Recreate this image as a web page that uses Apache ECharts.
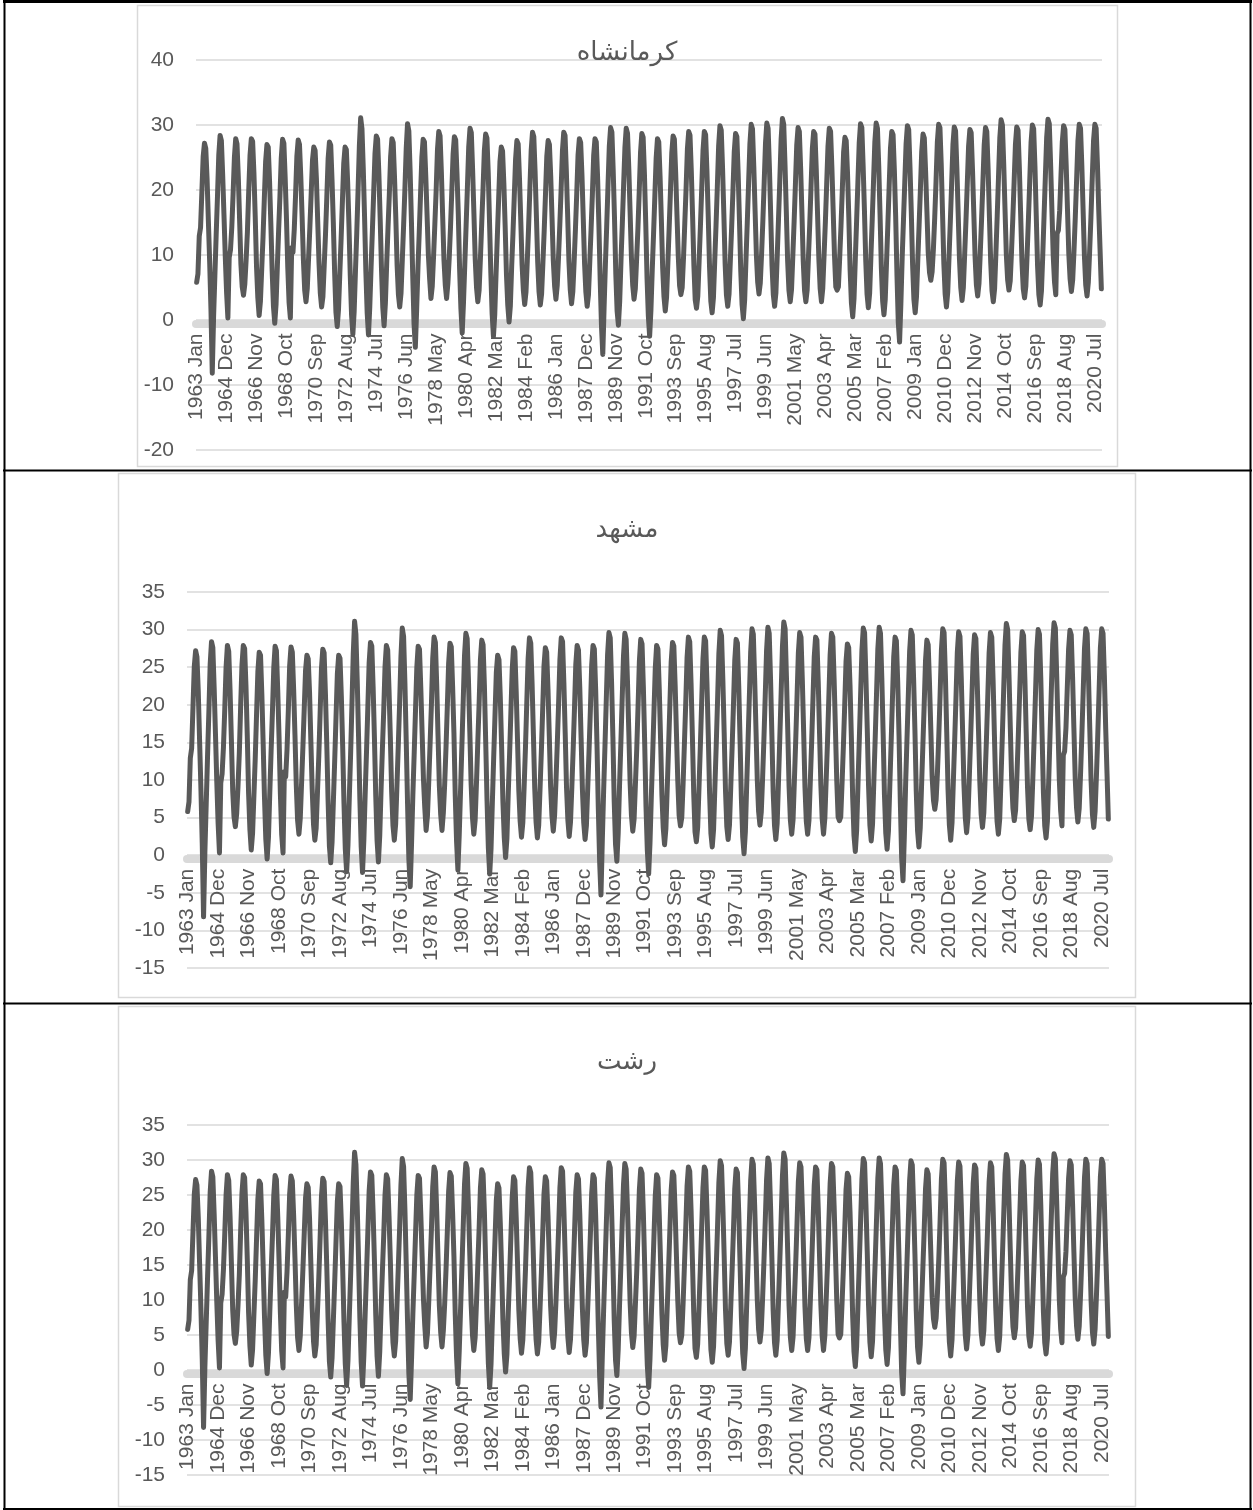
<!DOCTYPE html>
<html>
<head>
<meta charset="utf-8">
<script src="https://cdn.jsdelivr.net/npm/echarts@6/dist/echarts.min.js"></script>
<style>
  html, body { margin: 0; padding: 0; background: #ffffff; }
  #chart { width: 1253px; height: 1510px; }
</style>
</head>
<body>
<div id="chart"></div>
<script>
// Monthly mean temperature (°C), Jan..Dec for each year.
const temps1963to1969 = [
  5.8, 7.1, 12.9, 14.2, 19.6, 25.1, 27.2, 26.4, 21.8, 15.3, 8.9, 1.6,
  -8.2, 0.4, 6.8, 13.1, 19.0, 25.4, 28.4, 27.6, 22.3, 16.1, 9.7, 4.2,
  0.3, 9.6, 10.8, 14.3, 19.4, 25.0, 27.9, 27.1, 22.0, 15.4, 8.6, 5.1,
  3.8, 5.5, 9.2, 13.6, 19.8, 25.3, 27.9, 27.5, 22.6, 15.9, 8.2, 3.4,
  0.7, 2.9, 7.9, 12.8, 18.7, 24.4, 27.0, 26.6, 21.4, 14.8, 7.6, 2.1,
  -0.5, 2.4, 8.3, 13.9, 19.1, 24.9, 27.8, 27.2, 21.9, 15.6, 8.1, 2.7,
  0.3, 11.1, 10.4, 14.0, 19.3, 25.2, 27.7, 27.0, 22.1, 16.0, 9.3, 4.6
];
const temps1970s = [
  2.8, 4.9, 9.6, 14.4, 19.5, 24.6, 26.6, 26.1, 21.7, 15.2, 8.8, 4.1,
  2.0, 3.6, 8.4, 13.2, 18.9, 24.8, 27.4, 26.9, 21.5, 14.9, 7.3, 1.2,
  -1.0, 1.7, 7.2, 12.6, 18.4, 24.1, 26.6, 26.2, 21.2, 14.6, 6.9, 0.8,
  -2.2, 1.3, 7.5, 13.4, 19.9, 26.8, 31.1, 29.4, 23.3, 15.8, 7.4, 1.1,
  -2.3, 2.0, 8.1, 13.7, 19.6, 25.6, 28.3, 27.8, 22.4, 15.5, 7.8, 1.9,
  -0.9, 2.6, 8.7, 14.1, 19.2, 25.1, 27.9, 27.3, 22.0, 15.7, 8.4, 3.9,
  2.0, 4.1, 9.3, 14.6, 20.2, 26.4, 30.2, 29.1, 22.9, 15.1, 6.8, -0.6,
  -4.2, 1.5, 8.0, 13.5, 19.3, 25.0, 27.8, 27.4, 22.2, 16.2, 10.1, 6.3,
  3.3, 5.2, 9.8, 14.8, 20.0, 26.2, 29.0, 28.3, 22.7, 15.9, 9.2, 5.4,
  3.3, 5.6, 9.4, 14.2, 19.7, 25.5, 28.2, 27.7, 22.5, 16.3, 7.9, 1.8
];
const temps1980s = [
  -2.0, 2.7, 8.6, 14.5, 20.4, 26.6, 29.5, 28.8, 23.1, 16.4, 9.4, 5.0,
  2.8, 4.6, 9.5, 14.9, 20.1, 26.0, 28.6, 28.0, 22.6, 15.0, 7.2, 0.9,
  -2.5, 0.8, 7.0, 12.9, 18.6, 24.3, 26.6, 26.0, 21.0, 14.4, 7.0, 2.3,
  -0.3, 2.2, 8.2, 13.3, 19.0, 24.7, 27.6, 27.1, 21.8, 15.3, 8.5, 4.5,
  2.4, 4.3, 9.1, 14.3, 20.3, 26.1, 28.9, 28.2, 22.8, 16.0, 8.9, 4.4,
  2.3, 4.0, 8.8, 13.8, 19.4, 25.2, 27.6, 27.0, 22.1, 15.8, 9.1, 5.2,
  3.2, 5.3, 9.7, 14.7, 20.1, 26.0, 28.9, 28.4, 22.9, 16.2, 9.0, 4.7,
  2.5, 4.4, 9.0, 14.0, 19.5, 25.4, 27.9, 27.3, 22.3, 15.6, 8.7, 4.3,
  2.1, 3.9, 8.9, 13.9, 19.3, 25.3, 27.9, 27.4, 22.0, 14.7, 6.2, -0.9,
  -5.3, 1.9, 8.5, 14.4, 20.6, 26.7, 29.6, 28.9, 23.0, 15.7, 7.1, 1.4
];
const temps1990s = [
  -0.8, 2.9, 9.2, 14.8, 20.7, 26.5, 29.5, 28.7, 23.2, 16.5, 9.6, 5.3,
  3.2, 4.8, 9.4, 14.1, 19.8, 25.8, 28.7, 28.1, 22.4, 14.9, 6.4, 0.6,
  -2.5, 1.6, 7.7, 13.2, 19.1, 24.9, 27.9, 27.4, 22.1, 15.4, 8.0, 3.6,
  1.4, 3.5, 8.8, 14.2, 19.9, 25.7, 28.3, 27.8, 22.6, 16.1, 9.8, 5.3,
  3.9, 5.0, 9.5, 14.9, 20.3, 26.3, 29.0, 28.4, 22.9, 15.9, 8.3, 3.1,
  1.8, 3.7, 9.0, 14.4, 20.2, 26.1, 29.0, 28.5, 23.0, 16.0, 8.2, 2.9,
  1.1, 3.4, 9.1, 14.6, 20.5, 26.8, 29.9, 29.2, 23.4, 16.3, 8.6, 3.8,
  2.1, 4.0, 9.2, 14.3, 19.9, 25.9, 28.7, 28.2, 22.5, 15.2, 7.5, 2.4,
  0.2, 3.1, 9.3, 15.0, 21.0, 27.0, 30.1, 29.4, 23.6, 16.8, 10.0, 5.8,
  4.0, 5.7, 10.2, 15.4, 21.2, 27.2, 30.3, 29.5, 23.5, 16.1, 8.4, 3.9
];
const temps2000s = [
  2.1, 4.2, 9.8, 15.6, 21.5, 27.8, 31.0, 30.1, 23.8, 16.6, 9.1, 4.6,
  2.8, 4.7, 9.9, 15.2, 21.0, 26.9, 29.6, 29.0, 23.3, 16.4, 9.0, 4.5,
  2.8, 4.6, 9.7, 14.8, 20.6, 26.4, 29.0, 28.6, 23.1, 16.2, 9.3, 4.8,
  2.8, 4.9, 10.0, 15.1, 20.9, 26.7, 29.5, 29.0, 23.4, 16.7, 9.9, 5.1,
  4.6, 5.1, 9.6, 14.5, 20.0, 25.8, 28.1, 27.6, 22.6, 15.8, 7.7, 2.6,
  0.5, 3.3, 9.4, 15.3, 21.3, 27.3, 30.2, 29.6, 23.7, 16.9, 9.2, 4.0,
  1.9, 4.1, 9.9, 15.5, 21.4, 27.4, 30.3, 29.5, 23.6, 16.2, 8.0, 2.9,
  0.8, 3.2, 9.0, 14.7, 20.6, 26.4, 29.0, 28.5, 23.0, 15.9, 6.9, -0.4,
  -3.4, 2.5, 9.6, 15.4, 21.2, 27.1, 29.9, 29.3, 23.5, 16.6, 8.5, 3.2,
  1.1, 3.6, 9.2, 14.6, 20.1, 25.9, 28.6, 28.0, 22.8, 16.7, 10.4, 7.3
];
const temps2010s = [
  6.1, 7.4, 11.0, 15.8, 21.3, 27.3, 30.1, 29.6, 23.9, 16.4, 8.7, 4.0,
  2.0, 4.3, 9.8, 15.2, 21.0, 27.0, 29.7, 29.1, 23.4, 16.5, 9.4, 5.0,
  3.0, 5.0, 10.1, 15.3, 20.9, 26.7, 29.3, 28.8, 23.2, 16.6, 9.7, 5.4,
  3.7, 5.6, 10.4, 15.5, 21.1, 26.9, 29.6, 29.0, 23.3, 16.0, 8.9, 4.5,
  2.8, 4.8, 10.3, 16.0, 22.0, 28.0, 30.8, 30.0, 24.0, 17.0, 10.1, 6.2,
  4.6, 6.0, 10.6, 15.7, 21.3, 27.0, 29.7, 29.2, 23.5, 16.3, 9.0, 4.8,
  3.4, 5.2, 10.2, 15.6, 21.4, 27.3, 30.0, 29.4, 23.6, 16.0, 8.3, 3.9,
  2.3, 4.5, 10.0, 16.1, 22.1, 28.1, 30.9, 30.2, 24.1, 17.1, 10.0, 5.9,
  3.9, 13.3, 13.8, 16.9, 22.2, 27.4, 29.9, 29.3, 23.7, 16.9, 10.2, 6.3,
  4.4, 6.2, 10.7, 15.9, 21.6, 27.5, 30.1, 29.5, 23.8, 16.8, 9.8, 5.4
];
const temps2020 = [
  3.7, 5.8, 10.5, 15.8, 21.7, 27.6, 30.1, 29.5, 23.9, 16.9, 10.9, 4.8
];

// Category labels: "YYYY Mon" for every month from 1963 to 2020.
const monthNames = ['Jan', 'Feb', 'Mar', 'Apr', 'May', 'Jun', 'Jul', 'Aug', 'Sep', 'Oct', 'Nov', 'Dec'];
const firstYear = 1963;
const lastYear = 2020;

// Station titles and value-axis ticks for the three panels.
const stationNames = ['کرمانشاه', 'مشهد', 'رشت'];
const yTicksKermanshah = [-20, -10, 0, 10, 20, 30, 40];
const yTicksMashhad = [-15, -10, -5, 0, 5, 10, 15, 20, 25, 30, 35];
const yTicksRasht = [-15, -10, -5, 0, 5, 10, 15, 20, 25, 30, 35];

const monthlyTemp = [].concat(temps1963to1969, temps1970s, temps1980s, temps1990s,
  temps2000s, temps2010s, temps2020);

const categories = [];
for (let y = firstYear; y <= lastYear; y++) {
  for (const m of monthNames) categories.push(y + ' ' + m);
}

const TEXT = '#595959';
const GRID_LINE = '#d9d9d9';
const LABEL_FONT = 'Liberation Sans, Arial, sans-serif';

// Panel geometry (plot rectangle, frame, title position).
const panels = [
  { ticks: yTicksKermanshah, plot: { left: 196, top: 60, width: 906, height: 390 },
    frame: [137, 5, 980, 461], titleY: 53 },
  { ticks: yTicksMashhad, plot: { left: 187, top: 592, width: 922, height: 376 },
    frame: [118, 473, 1017, 524], titleY: 530 },
  { ticks: yTicksRasht, plot: { left: 187, top: 1125, width: 922, height: 350 },
    frame: [118, 1006, 1017, 500], titleY: 1062 }
];

const grids = [], xAxes = [], yAxes = [], series = [], graphics = [];

panels.forEach((p, i) => {
  const ticks = p.ticks;
  const yMin = ticks[0], yMax = ticks[ticks.length - 1];
  // the category axis sits on the zero line; its thick rule hangs just below zero
  const zeroFromBottom = p.plot.height * (0 - yMin) / (yMax - yMin);
  grids.push(Object.assign({ containLabel: false, outerBoundsMode: 'none' }, p.plot));
  xAxes.push({
    type: 'category', gridIndex: i, data: categories, boundaryGap: true,
    position: 'bottom', offset: -(zeroFromBottom - 3.5),
    axisLine: { onZero: false, lineStyle: { color: GRID_LINE, width: 8 } },
    axisTick: { show: false },
    axisLabel: {
      interval: 22, rotate: 90, margin: 10, color: TEXT,
      fontSize: 21, fontFamily: LABEL_FONT
    },
    splitLine: { show: false }
  });
  yAxes.push({
    type: 'value', gridIndex: i,
    min: yMin, max: yMax, interval: ticks[1] - ticks[0],
    axisLine: { show: false }, axisTick: { show: false },
    axisLabel: { margin: 22, color: TEXT, fontSize: 21, fontFamily: LABEL_FONT },
    splitLine: { lineStyle: { color: GRID_LINE, width: 1.5 } }
  });
  series.push({
    type: 'line', xAxisIndex: i, yAxisIndex: i, data: monthlyTemp,
    symbol: 'none', smooth: false,
    lineStyle: { color: TEXT, width: 5, cap: 'round', join: 'round' },
    z: 3
  });
  // chart frame
  graphics.push({
    type: 'rect', silent: true, z: -1,
    shape: { x: p.frame[0] + 0.5, y: p.frame[1] + 0.5, width: p.frame[2], height: p.frame[3] },
    style: { fill: 'none', stroke: GRID_LINE, lineWidth: 1.5 }
  });
  // title
  graphics.push({
    type: 'text', silent: true, z: 10,
    x: 627, y: p.titleY,
    style: {
      text: stationNames[i], align: 'center', verticalAlign: 'middle',
      font: '26px "DejaVu Serif", "DejaVu Sans", serif', fill: TEXT
    }
  });
});

// table rules around the three panels
const rule = (x1, y1, x2, y2, w) => ({
  type: 'line', silent: true, z: 10,
  shape: { x1, y1, x2, y2 }, style: { stroke: '#000000', lineWidth: w }
});
graphics.push(
  rule(3, 1.5, 1252, 1.5, 3),
  rule(4.5, 0, 4.5, 1510, 2),
  rule(1250.5, 0, 1250.5, 1510, 2),
  rule(3, 470.5, 1252, 470.5, 2),
  rule(3, 1003.5, 1252, 1003.5, 2),
  rule(3, 1509, 1252, 1509, 2)
);

const chart = echarts.init(document.getElementById('chart'), null, { renderer: 'canvas' });
chart.setOption({
  animation: false,
  backgroundColor: '#ffffff',
  grid: grids, xAxis: xAxes, yAxis: yAxes, series: series,
  graphic: graphics
});
</script>
</body>
</html>
